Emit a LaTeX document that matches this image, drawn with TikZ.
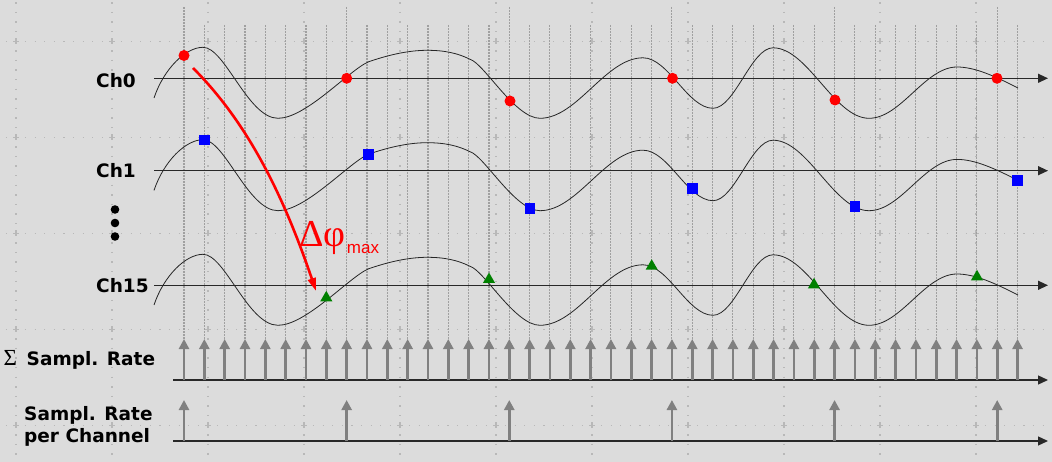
\documentclass[tikz,border=0pt]{standalone}
\usepackage{fontspec}
\setmainfont{DejaVu Sans}
\newfontfamily\serifgr{Liberation Serif}
\newfontfamily\plainsans{Liberation Sans}
\usetikzlibrary{arrows.meta,shapes.geometric}
\definecolor{bg}{RGB}{220,220,220}
\definecolor{gridc}{RGB}{184,184,184}
\definecolor{sampc}{RGB}{160,160,160}
\definecolor{arrc}{RGB}{128,128,128}
\definecolor{axc}{RGB}{40,40,40}
\definecolor{mgreen}{RGB}{0,128,0}
\begin{document}
\begin{tikzpicture}[x=1pt,y=-1pt,
  lbl/.style={anchor=base west, inner sep=0pt, font=\fontsize{18.5}{21}\selectfont\bfseries},
  axisline/.style={draw=axc, line width=1.3pt, -{Triangle[length=10pt,width=9pt]}},
  wave/.style={draw=black!85, line width=0.8pt},
  sampline/.style={draw=sampc, line width=1.1pt, dash pattern=on 2pt off 1pt},
  gridline/.style={draw=gridc, line width=1.3pt, dash pattern=on 1.3pt off 8.3pt},
  gridcross/.style={draw=gridc, line width=1.2pt},
  samparrow/.style={draw=arrc, line width=2.7pt, -{Triangle[length=10pt,width=10pt]}},
  rdot/.style={circle, fill=red, minimum size=11pt, inner sep=0pt},
  bsq/.style={rectangle, fill=blue, minimum size=10.5pt, inner sep=0pt},
  gtri/.style={regular polygon, regular polygon sides=3, fill=mgreen, minimum size=14pt, inner sep=0pt},
  vdot/.style={circle, fill=black, minimum size=8.6pt, inner sep=0pt},
  phasearrow/.style={draw=red, line width=2.6pt, -{Triangle[length=13pt,width=8pt]}}]

\fill[bg,use as bounding box] (0,0) rectangle (1052,462);

% background dotted grid
\foreach \gy in {41.3,137.3,233.3,329.3,425.3}
  \draw[gridline] (5.75,\gy) -- (1052,\gy);
\foreach \gx in {16,112,208,304,400,496,592,688,784,880,976}
  \draw[gridline] (\gx,2.25) -- (\gx,462);
\foreach \gx in {16,112,208,304,400,496,592,688,784,880,976}
  \foreach \gy in {41.3,137.3,233.3,329.3,425.3}
    \draw[gridcross] (\gx-3,\gy) -- (\gx+3,\gy) (\gx,\gy-3) -- (\gx,\gy+3);

% sampling instants
\foreach \k in {0,...,41}{
  \pgfmathsetmacro\xx{184+20.33*\k}
  \pgfmathsetmacro\yt{mod(\k,8)==0 ? 7 : 25}
  \draw[sampline] (\xx,\yt) -- (\xx,339);
}

% channel axes
\draw[axisline] (154,78.3) -- (1048,78.3);
\draw[axisline] (154,170.7) -- (1048,170.7);
\draw[axisline] (154,285.3) -- (1048,285.3);

% waveforms (same signal on each channel)
\foreach \yy in {78.3,170.7,285.3}{
  \draw[wave, shift={(0,\yy)}]
    (154,19.7) .. controls (164,-10) and (186,-31) .. (203,-31)
    .. controls (225,-31) and (248,40) .. (278,40)
    .. controls (306,40) and (349,-8) .. (368.3,-16.4)
    .. controls (390,-24) and (410,-28) .. (427,-28)
    .. controls (445,-28) and (458,-25) .. (470,-19)
    .. controls (484,-15) and (515,40) .. (540,40)
    .. controls (577.4,40) and (605.6,-20.5) .. (643,-20.5)
    .. controls (668.4,-20.5) and (687.6,30) .. (713,30)
    .. controls (734.8,30) and (751.2,-30.5) .. (773,-30.5)
    .. controls (807.8,-30.5) and (834.2,40) .. (869,40)
    .. controls (901,40) and (925,-11.3) .. (957,-11.3)
    .. controls (975,-11.3) and (995,-2) .. (1018,9.7);
}

% sample markers
\node[rdot] (r0) at (184,55.5) {};
\node[rdot] (r1) at (346.7,78.3) {};
\node[rdot] (r2) at (510,101) {};
\node[rdot] (r3) at (672.5,78.3) {};
\node[rdot] (r4) at (835,100) {};
\node[rdot] (r5) at (997,78.3) {};
\node[bsq] (b0) at (204.5,140.2) {};
\node[bsq] (b1) at (368.3,154.3) {};
\node[bsq] (b2) at (530,208.3) {};
\node[bsq] (b3) at (692.7,188.3) {};
\node[bsq] (b4) at (855,206.7) {};
\node[bsq] (b5) at (1017.7,180.4) {};
\node[gtri] (g0) at (326.3,297.8) {};
\node[gtri] (g1) at (489,279.5) {};
\node[gtri] (g2) at (651.7,266.2) {};
\node[gtri] (g3) at (814,284.8) {};
\node[gtri] (g4) at (977,276.8) {};

% sampling rate rows
\draw[axisline] (173,380) -- (1048,380);
\draw[axisline] (173,441) -- (1048,441);
\foreach \k in {0,...,41}{
  \pgfmathsetmacro\xx{184+20.33*\k}
  \draw[samparrow] (\xx,380) -- (\xx,339);
}
\foreach \k in {0,8,...,40}{
  \pgfmathsetmacro\xx{184+20.33*\k}
  \draw[samparrow] (\xx,441) -- (\xx,400);
}

% labels
\node[lbl] (ch0) at (96,87.3) {Ch0};
\node[lbl] (ch1) at (96,177.3) {Ch1};
\node[lbl] (ch15) at (96,292.3) {Ch15};
\node[vdot] (d1) at (115,209.5) {};
\node[vdot] (d2) at (115,223) {};
\node[vdot] (d3) at (115,236.5) {};
\node[anchor=base west, inner sep=0pt, font=\serifgr\fontsize{23}{23}\selectfont] (sig) at (3.5,365) {Σ};
\node[lbl] (srate) at (26.5,365) {Sampl. Rate};
\node[lbl] (pc1) at (24,420) {Sampl. Rate};
\node[lbl] (pc2) at (24,442.7) {per Channel};

% phase difference arrow
\coordinate (ps) at (193,68);
\coordinate (pe) at (316,291);
\draw[phasearrow] (ps) .. controls (250,125) and (285,200) .. (pe);
\node[anchor=base west, inner sep=0pt, text=red, font=\serifgr\fontsize{38}{38}\selectfont] (dphi) at (299,246.7) {Δφ};
\node[anchor=base west, inner sep=0pt, text=red, font=\plainsans\fontsize{17}{17}\selectfont, yshift=-6.6pt, xshift=1pt] (dmax) at (dphi.base east) {max};
\end{tikzpicture}
\end{document}
